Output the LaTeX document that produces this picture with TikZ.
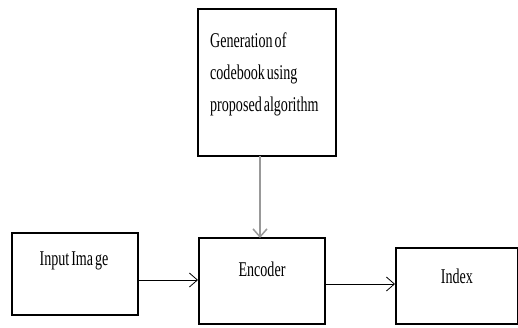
\documentclass[tikz,border=0pt]{standalone}
\usepackage{fontspec}
\setmainfont{Liberation Serif}[FakeStretch=0.67]
\usetikzlibrary{arrows.meta}
\newcommand{\boxfont}{\fontsize{21}{32}\selectfont\spaceskip 2pt plus 1pt\relax}

\begin{document}
\begin{tikzpicture}[x=1pt,y=-1pt,-{Straight Barb[length=8pt,width=14pt]}]
   \useasboundingbox (0,0) rectangle (518,327);
   \tikzstyle{box}=[rectangle, draw=black, line width=2pt, inner sep=0pt]
   \tikzstyle{txt}=[font=\boxfont, inner sep=0pt, anchor=base]
   \node[box, minimum width=138pt, minimum height=147pt] (gen) at (267,82.5) {};
   \node[box, minimum width=126pt, minimum height=82pt] (inp) at (75,274) {};
   \node[box, minimum width=126pt, minimum height=86pt] (enc) at (262,281) {};
   \node[box, minimum width=122pt, minimum height=76pt] (idx) at (457,286) {};
   % labels
   \node[txt, anchor=base west] (gen1) at (210,47) {Generation of};
   \node[txt, anchor=base west] (gen2) at (210,79) {codebook using};
   \node[txt, anchor=base west] (gen3) at (210,111) {proposed algorithm};
   \node[txt] (inptext) at (74,265) {Input Ima ge};
   \node[txt] (enctext) at (262,276) {Encoder};
   \node[txt] (idxtext) at (457,283) {Index};
   % connectors
   \coordinate (down) at (260,156);
   \coordinate (downend) at (260,238);
   \draw[gray!80, line width=1.5pt] (down) -- (downend);
   \draw[line width=0.8pt] ([yshift=-6pt]inp.east) -- ([yshift=-6pt]inp.east -| enc.west);
   \draw[line width=0.8pt] ([yshift=-3pt]enc.east) -- ([yshift=-3pt]enc.east -| idx.west);
\end{tikzpicture}
\end{document}
